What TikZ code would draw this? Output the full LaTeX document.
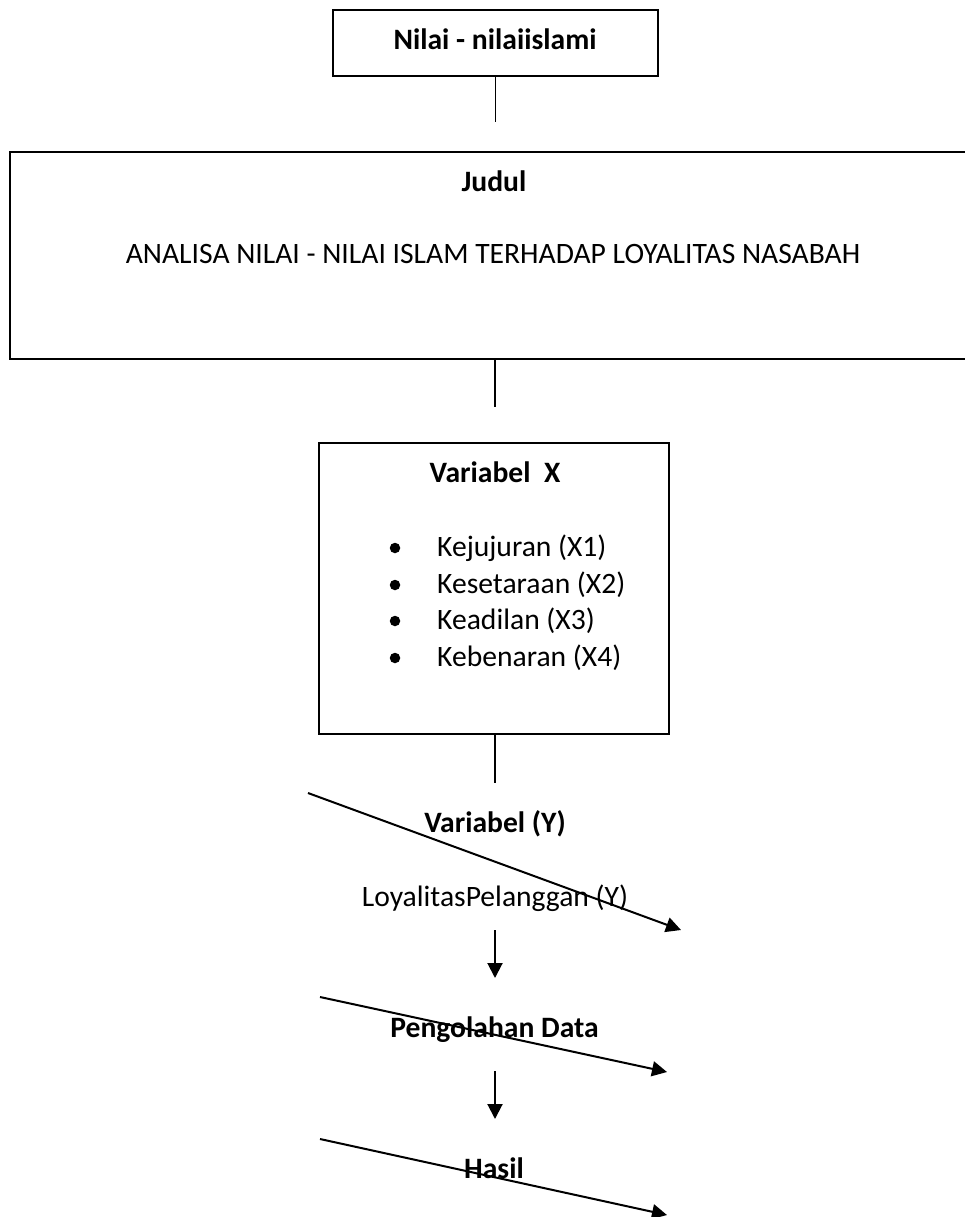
\documentclass[tikz,border=0pt]{standalone}
\usepackage{fontspec}
\setmainfont{Carlito}
\usetikzlibrary{arrows.meta}
\tikzset{
  boxnode/.style={draw, line width=1.5pt, inner sep=0pt},
  txt/.style={font=\fontsize{29.6pt}{35pt}\selectfont, inner sep=0pt, anchor=base},
  btxt/.style={txt, font=\fontsize{29.6pt}{35pt}\selectfont\bfseries},
  ltxt/.style={font=\fontsize{29.6pt}{35pt}\selectfont, inner sep=0pt, anchor=base west},
  conn/.style={line width=1.3pt},
  darrow/.style={line width=2pt, -{Triangle[length=15pt,width=15pt]}},
  bulletdot/.style={circle, fill, inner sep=0pt, minimum size=10.5pt}
}
\begin{document}
\begin{tikzpicture}[x=1pt,y=-1pt]
\useasboundingbox (0,0) rectangle (965,1217);
% boxes
\node[boxnode, minimum width=325pt, minimum height=66pt] (nilai) at (495.5,43) {};
\node[boxnode, minimum width=956pt, minimum height=207pt] (judul) at (488,255.5) {};
\node[boxnode, minimum width=350pt, minimum height=291pt] (varx) at (494,588.5) {};
% texts
\node[btxt] (tnilai) at (495,50) {Nilai - nilaiislami};
\node[btxt] (tjudul) at (494,191) {Judul};
\node[txt] (ttitle) at (493,263) {ANALISA NILAI - NILAI ISLAM TERHADAP LOYALITAS NASABAH};
\node[btxt] (tvarx) at (495,482) {Variabel\ \ X};
\node[bulletdot] (b1) at (395,548) {};
\node[bulletdot] (b2) at (395,585) {};
\node[bulletdot] (b3) at (395,621) {};
\node[bulletdot] (b4) at (395,658) {};
\node[ltxt] (x1) at (437,556) {Kejujuran (X1)};
\node[ltxt] (x2) at (437,593) {Kesetaraan (X2)};
\node[ltxt] (x3) at (437,629) {Keadilan (X3)};
\node[ltxt] (x4) at (437,666) {Kebenaran (X4)};
\node[btxt] (tvary) at (495,832) {Variabel (Y)};
\node[txt] (tloyal) at (495,906) {LoyalitasPelanggan (Y)};
\node[btxt] (tolah) at (494.5,1037) {Pengolahan Data};
\node[btxt] (thasil) at (494,1178) {Hasil};
% coordinates
\coordinate (e1) at (495.5,122);
\coordinate (c2) at (495,407);
\coordinate (c3) at (495,783);
\coordinate (d1s) at (308,793);
\coordinate (d1e) at (681,930);
\coordinate (v1s) at (495,930);
\coordinate (v1e) at (495,978);
\coordinate (d2s) at (320,997);
\coordinate (d2e) at (667,1072);
\coordinate (v2s) at (495,1071);
\coordinate (v2e) at (495,1119);
\coordinate (d3s) at (320,1139);
\coordinate (d3e) at (667,1215);
% connectors
\draw[conn] (nilai.south) -- (e1);
\draw[conn] (c2 |- judul.south) -- (c2);
\draw[conn] (c3 |- varx.south) -- (c3);
\draw[darrow] (d1s) -- (d1e);
\draw[darrow] (v1s) -- (v1e);
\draw[darrow] (d2s) -- (d2e);
\draw[darrow] (v2s) -- (v2e);
\draw[darrow] (d3s) -- (d3e);
\end{tikzpicture}
\end{document}
